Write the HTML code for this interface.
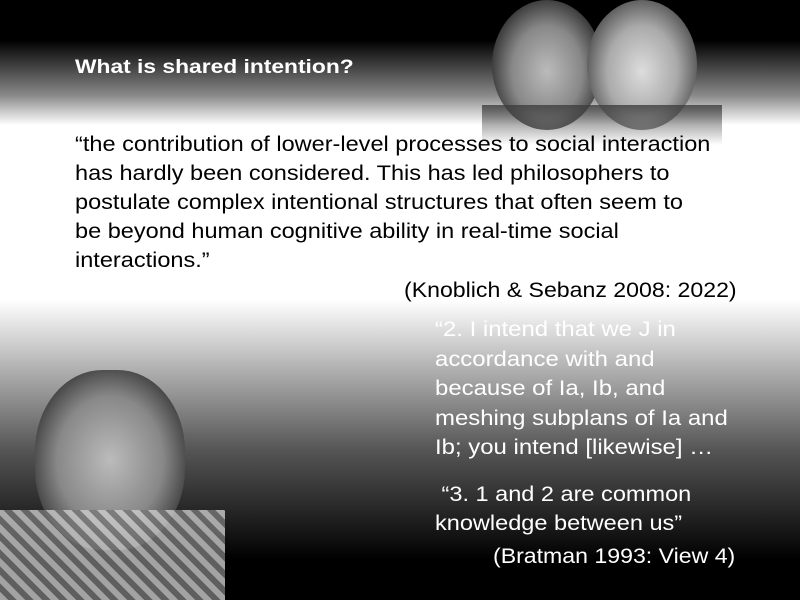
<!DOCTYPE html>
<html><head><meta charset="utf-8">
<style>
html,body{margin:0;padding:0;}
body{width:800px;height:600px;position:relative;overflow:hidden;
background:linear-gradient(to bottom,#000 0px,#000 40px,#888 95px,#fff 125px,#fff 300px,#bbb 360px,#555 450px,#000 560px,#000 600px);
font-family:"Liberation Sans",sans-serif;}
.t{position:absolute;white-space:nowrap;transform-origin:0 0;}
#title{left:75px;top:57px;font-size:19px;font-weight:bold;color:#fff;transform:scaleX(1.2);}
#quote1{left:75px;top:130px;font-size:21px;line-height:29px;color:#000;transform:scaleX(1.12);}
#cite1{left:404px;top:279px;font-size:21px;color:#000;transform:scaleX(1.1);}
#quote2{left:435px;top:315px;font-size:21px;line-height:29.5px;color:#fff;transform:scaleX(1.14);}
#quote3{left:435px;top:480px;font-size:21px;line-height:29px;color:#fff;transform:scaleX(1.12);}
#cite2{left:493px;top:545px;font-size:21px;color:#fff;transform:scaleX(1.1);}
.photo{position:absolute;}
</style></head><body>
<div class="photo" style="left:482px;top:0;width:240px;height:140px;">
  <div style="position:absolute;left:10px;top:0;width:110px;height:130px;border-radius:50%;background:radial-gradient(ellipse at 50% 55%,#bbb 0%,#888 45%,#333 75%,rgba(0,0,0,0) 78%);"></div>
  <div style="position:absolute;left:105px;top:0;width:110px;height:130px;border-radius:50%;background:radial-gradient(ellipse at 50% 55%,#ddd 0%,#aaa 45%,#555 75%,rgba(0,0,0,0) 78%);"></div>
  <div style="position:absolute;left:0;top:105px;width:240px;height:40px;background:linear-gradient(to bottom,rgba(60,60,60,0.8),rgba(255,255,255,0));"></div>
</div>
<div class="photo" style="left:0;top:370px;width:225px;height:230px;">
  <div style="position:absolute;left:35px;top:0;width:150px;height:180px;border-radius:45%;background:radial-gradient(ellipse at 50% 50%,#bbb 0%,#888 50%,#444 75%,rgba(0,0,0,0) 80%);"></div>
  <div style="position:absolute;left:0;top:140px;width:225px;height:90px;background:repeating-linear-gradient(45deg,#ccc 0 6px,#777 6px 12px);opacity:0.8;"></div>
</div>
<div id="title" class="t">What is shared intention?</div>
<div id="quote1" class="t">“the contribution of lower-level processes to social interaction<br>has hardly been considered. This has led philosophers to<br>postulate complex intentional structures that often seem to<br>be beyond human cognitive ability in real-time social<br>interactions.”</div>
<div id="cite1" class="t">(Knoblich &amp; Sebanz 2008: 2022)</div>
<div id="quote2" class="t">“2. I intend that we J in<br>accordance with and<br>because of Ia, Ib, and<br>meshing subplans of Ia and<br>Ib; you intend [likewise] …</div>
<div id="quote3" class="t">&nbsp;“3. 1 and 2 are common<br>knowledge between us”</div>
<div id="cite2" class="t">(Bratman 1993: View 4)</div>
</body></html>
